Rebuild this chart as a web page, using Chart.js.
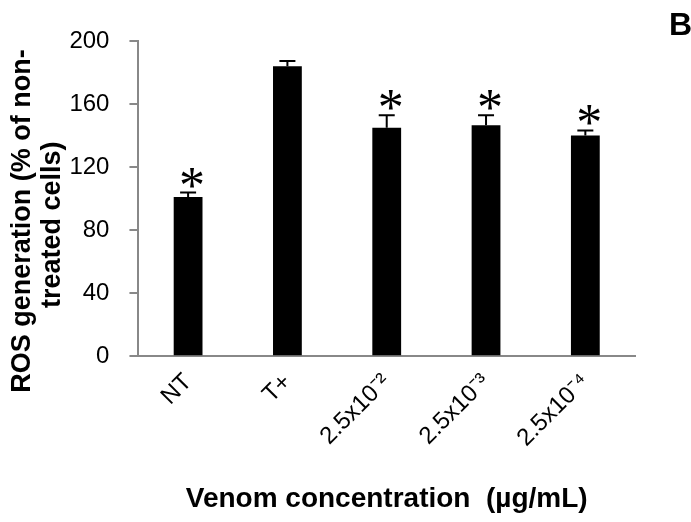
<!DOCTYPE html>
<html>
<head>
<meta charset="utf-8">
<script src="https://cdn.jsdelivr.net/npm/chart.js@4.4.0/dist/chart.umd.min.js"></script>
<style>
  html, body { margin: 0; padding: 0; background: #ffffff; }
  #wrap { width: 691px; height: 522px; position: relative; }
</style>
</head>
<body>
<div id="wrap"><canvas id="c"></canvas></div>
<script>
// ---- Data ----
const categories = ['NT', 'T+', '2.5x10\u207B\u00B2', '2.5x10\u207B\u00B3', '2.5x10\u207B\u2074'];
const rosValues = [101, 184, 145, 146.5, 140];
const rosErrors = [2.8, 3.3, 7.8, 6.3, 3.2];
const significant = [true, false, true, true, true];
const yTicks = [0, 40, 80, 120, 160, 200];
const yTitleLines = ['ROS generation (% of non-\u00A0\u00A0\u00A0\u00A0\u00A0\u00A0', 'treated cells)\u00A0\u00A0\u00A0\u00A0\u00A0\u00A0\u00A0'];
const xTitle = 'Venom concentration  (\u00B5g/mL)';
const panelLabel = 'B';

const axisGray = '#888888';

const errorBarsPlugin = {
  id: 'errorBars',
  afterDatasetsDraw(chart) {
    const ctx = chart.ctx;
    const meta = chart.getDatasetMeta(0);
    const yScale = chart.scales.y;
    ctx.save();
    ctx.strokeStyle = '#000000';
    ctx.lineWidth = 2;
    meta.data.forEach((bar, i) => {
      const x = bar.x;
      const yTop = yScale.getPixelForValue(rosValues[i] + rosErrors[i]);
      const yBar = yScale.getPixelForValue(rosValues[i]);
      ctx.beginPath();
      ctx.moveTo(x, yBar);
      ctx.lineTo(x, yTop);
      ctx.moveTo(x - 8, yTop);
      ctx.lineTo(x + 8, yTop);
      ctx.stroke();
      if (significant[i]) {
        ctx.fillStyle = '#000000';
        ctx.font = '52px "Liberation Serif", "Times New Roman", serif';
        ctx.textAlign = 'center';
        ctx.textBaseline = 'alphabetic';
        ctx.fillText('*', x + 4, yTop + 10);
      }
    });
    ctx.restore();
  }
};

const panelLabelPlugin = {
  id: 'panelLabel',
  afterDraw(chart) {
    const ctx = chart.ctx;
    ctx.save();
    ctx.fillStyle = '#000000';
    ctx.font = 'bold 32px "Liberation Sans", Arial, sans-serif';
    ctx.textAlign = 'left';
    ctx.textBaseline = 'alphabetic';
    ctx.fillText(panelLabel, 669, 35);
    ctx.restore();
  }
};

new Chart(document.getElementById('c'), {
  type: 'bar',
  data: {
    labels: categories,
    datasets: [{
      data: rosValues,
      backgroundColor: '#000000',
      borderWidth: 0,
      barPercentage: 0.29,
      categoryPercentage: 1.0
    }]
  },
  options: {
    responsive: true,
    maintainAspectRatio: false,
    animation: false,
    layout: { padding: { left: 8, right: 56, top: 41, bottom: 6 } },
    plugins: {
      legend: { display: false },
      tooltip: { enabled: false },
      title: { display: false }
    },
    scales: {
      x: {
        grid: { display: false, drawTicks: false },
        border: { display: true, color: axisGray, width: 2 },
        ticks: {
          color: '#000000',
          font: { family: '"Liberation Sans", Arial, sans-serif', size: 24 },
          maxRotation: 45,
          minRotation: 45,
          padding: 12,
          autoSkip: false
        },
        title: {
          display: true,
          text: xTitle,
          color: '#000000',
          font: { family: '"Liberation Sans", Arial, sans-serif', size: 28, weight: 'bold' },
          padding: { top: 18, bottom: 0 }
        }
      },
      y: {
        min: 0,
        max: 200,
        afterBuildTicks(scale) { scale.ticks = yTicks.map(v => ({ value: v })); },
        grid: { display: true, drawOnChartArea: false, drawTicks: true, tickLength: 9, color: axisGray, lineWidth: 2 },
        border: { display: true, color: axisGray, width: 2 },
        ticks: {
          color: '#000000',
          font: { family: '"Liberation Sans", Arial, sans-serif', size: 24 },
          padding: 20
        },
        title: {
          display: true,
          text: yTitleLines,
          color: '#000000',
          font: { family: '"Liberation Sans", Arial, sans-serif', size: 27, weight: 'bold', lineHeight: 1.1 },
          padding: { top: 0, bottom: -18 }
        }
      }
    }
  },
  plugins: [errorBarsPlugin, panelLabelPlugin]
});
</script>
</body>
</html>
